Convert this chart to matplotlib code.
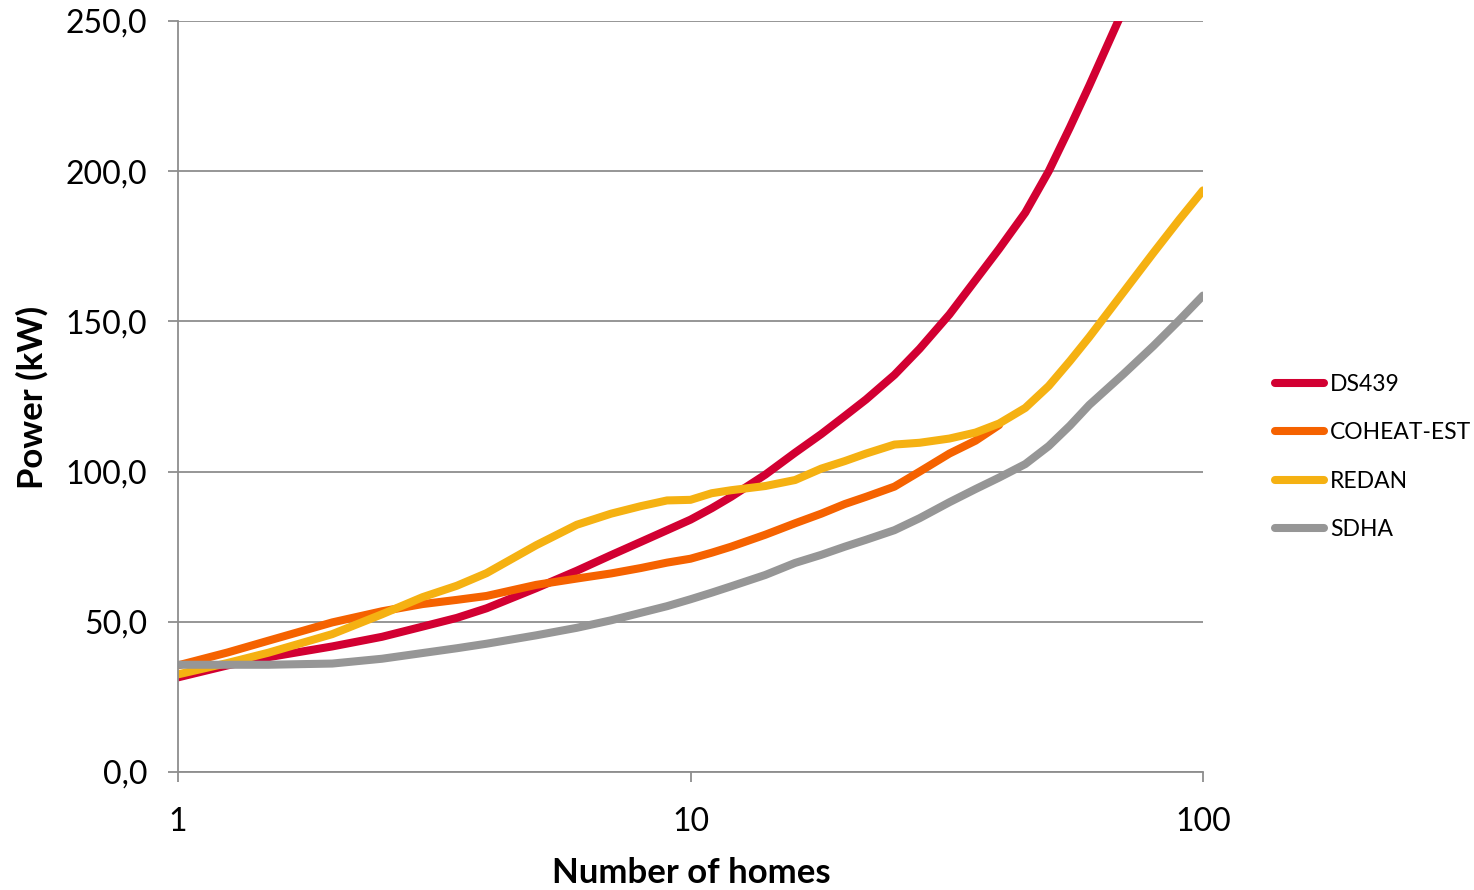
import matplotlib
matplotlib.use('Agg')
import matplotlib.pyplot as plt

plt.rcParams['font.family'] = ['Lato', 'DejaVu Sans']

# number of homes on the feeder
homes = [1, 1.25, 1.5, 2, 2.5, 3, 3.5, 4, 5, 6, 7, 8, 9, 10, 11, 12, 14, 16, 18, 20, 22,
         25, 28, 32, 36, 40, 45, 50, 55, 60, 70, 80, 90, 100]

# peak power (kW) per method
ds439 = [31.5, 35.5, 38.2, 41.8, 45, 48.4, 51.3, 54.5, 61.2, 67, 72.2, 76.6, 80.5, 84, 87.8,
         91.6, 99, 106.3, 112.5, 118.5, 124, 132.2, 140.9, 152.3, 163.8, 174.1, 186.2, 200,
         214.6, 228.5, 254, 279, 297, 313]
coheat_est = [35.5, 39.8, 43.7, 49.8, 53.5, 55.9, 57.3, 58.6, 62.3, 64.4, 66.1, 67.9, 69.7,
              71, 73, 75, 79, 82.8, 86, 89.2, 91.6, 95, 100, 106, 110.3, 115.5]
redan = [32.5, 36.3, 39.7, 45.9, 52.5, 58.2, 62, 66.2, 75.5, 82.3, 86, 88.5, 90.4, 90.6,
         92.8, 93.8, 95.2, 97.2, 101, 103.5, 106, 109, 109.6, 111, 113, 116, 121.2, 128.5,
         136.8, 144.8, 159.8, 172.8, 184, 193.6]
sdha = [35.7, 35.7, 35.7, 36.1, 37.7, 39.6, 41.2, 42.7, 45.5, 48, 50.5, 53, 55.2, 57.5, 59.7,
        61.8, 65.6, 69.6, 72.3, 75, 77.3, 80.5, 84.5, 89.8, 94.2, 98, 102.5, 108.5, 115.3,
        122.2, 132.5, 141.8, 150.5, 158.6]

series = [('DS439', ds439, '#D20032'),
          ('COHEAT-EST', coheat_est, '#F56200'),
          ('REDAN', redan, '#F5B112'),
          ('SDHA', sdha, '#969696')]

y_ticks = [0, 50, 100, 150, 200, 250]
x_ticks = [1, 10, 100]

fig = plt.figure(figsize=(14.74, 8.9), dpi=100)
ax = fig.add_axes([178 / 1474, 1 - 772 / 890, (1203 - 178) / 1474, (772 - 21) / 890])

for name, vals, col in series:
    ax.plot(homes[:len(vals)], vals, color=col, lw=5.8, label=name,
            solid_capstyle='round', solid_joinstyle='round')

ax.set_xscale('log')
ax.set_xlim(1, 100)
ax.set_ylim(0, 250)
ax.set_xticks(x_ticks)
ax.set_xticklabels([str(t) for t in x_ticks])
ax.xaxis.set_minor_locator(matplotlib.ticker.NullLocator())
ax.set_yticks(y_ticks)
ax.set_yticklabels([('%.1f' % t).replace('.', ',') for t in y_ticks])

grey = '#8E8E8E'
ax.yaxis.grid(True, color=grey, lw=1.3)
ax.set_axisbelow(True)
for s in ['top', 'right']:
    ax.spines[s].set_visible(False)
for s in ['left', 'bottom']:
    ax.spines[s].set_color(grey)
    ax.spines[s].set_linewidth(1.3)
ax.tick_params(axis='both', which='major', direction='out', length=7, width=1.3,
               color=grey, labelsize=23, labelcolor='black')
ax.tick_params(axis='y', pad=15)
ax.tick_params(axis='x', pad=18)

fig.text(32 / 1474, 1 - 397 / 890, 'Power (kW)', rotation=90, ha='center', va='center',
         fontsize=25, fontweight='bold')
fig.text(691 / 1474, 1 - 873 / 890, 'Number of homes', ha='center', va='center',
         fontsize=25, fontweight='bold')

leg = ax.legend(loc='center left', bbox_to_anchor=(1275 / 1474, 1 - 457 / 890),
                bbox_transform=fig.transFigure, frameon=False, fontsize=16.5,
                handlelength=2.15, handletextpad=0.25, labelspacing=1.2,
                borderpad=0, borderaxespad=0)

fig.savefig('out.png', dpi=100)
